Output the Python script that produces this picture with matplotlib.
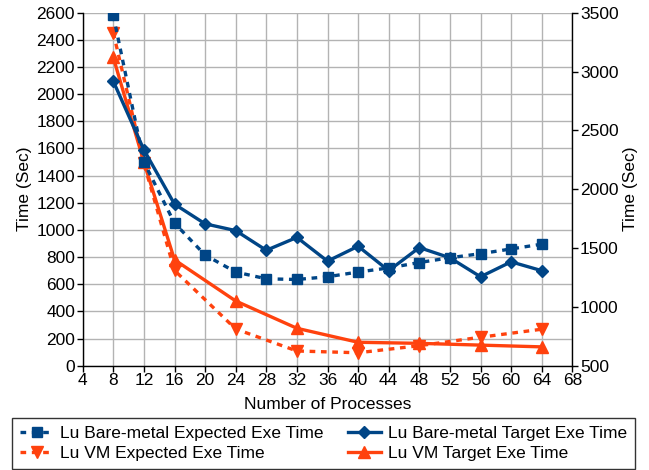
import matplotlib
matplotlib.use("Agg")
import matplotlib.pyplot as plt

plt.rcParams['font.family'] = ['Liberation Sans', 'DejaVu Sans']

# Number of processes
procs_bm = [8, 12, 16, 20, 24, 28, 32, 36, 40, 44, 48, 52, 56, 60, 64]
procs_vm = [8, 12, 16, 24, 32, 40, 48, 56, 64]

# Bare-metal run times (left axis, seconds)
bm_expected = [2580, 1500, 1050, 815, 690, 640, 635, 655, 690, 720, 760, 795, 825, 860, 895]
bm_target = [2095, 1590, 1190, 1045, 995, 850, 945, 770, 880, 700, 870, 795, 655, 765, 700]

# VM run times (right axis, seconds)
vm_expected = [3330, 2220, 1310, 812, 625, 610, 670, 742, 810]
vm_target = [3120, 2230, 1400, 1050, 818, 699, 690, 675, 660]

x_ticks = list(range(4, 69, 4))
left_ticks = list(range(0, 2601, 200))
right_ticks = list(range(500, 3501, 500))

BLUE = '#004586'
ORANGE = '#ff420e'
FS = 12.5

fig = plt.figure(figsize=(6.49, 4.70), dpi=100)
pos = [82.7 / 649, (470 - 365.7) / 470, 489.6 / 649, 353 / 470]

# background axes carrying only the grid
gax = fig.add_axes(pos)
ax = fig.add_axes(pos, sharex=gax, sharey=gax)
ax2 = ax.twinx()

gax.set_zorder(0)
ax2.set_zorder(1)
ax.set_zorder(2)
ax.patch.set_visible(False)
ax2.patch.set_visible(False)

gax.set_xlim(4, 68)
gax.set_ylim(0, 2600)
gax.set_xticks(x_ticks)
gax.set_yticks(left_ticks)
gax.grid(True, color='#b3b3b3', linewidth=1.0)
gax.tick_params(left=False, bottom=False, labelleft=False, labelbottom=False)
for s in gax.spines.values():
    s.set_visible(False)

lw = 2.4
dash = (0, (1.7, 1.7))

h1, = ax.plot(procs_bm, bm_expected, color=BLUE, lw=lw, linestyle=dash,
              marker='s', markersize=7.5, label='Lu Bare-metal Expected Exe Time')
h2, = ax.plot(procs_bm, bm_target, color=BLUE, lw=lw, linestyle='-',
              marker='D', markersize=6, label='Lu Bare-metal Target Exe Time')
h3, = ax2.plot(procs_vm, vm_expected, color=ORANGE, lw=lw, linestyle=dash,
               marker='v', markersize=8.5, label='Lu VM Expected Exe Time')
h4, = ax2.plot(procs_vm, vm_target, color=ORANGE, lw=lw, linestyle='-',
               marker='^', markersize=8.5, label='Lu VM Target Exe Time')

ax.set_xlim(4, 68)
ax.set_ylim(0, 2600)
ax.set_xticks(x_ticks)
ax.set_yticks(left_ticks)
ax2.set_ylim(500, 3500)
ax2.set_yticks(right_ticks)

for a in (ax, ax2):
    a.spines['top'].set_visible(False)
ax.spines['right'].set_visible(False)
ax2.spines['left'].set_visible(False)
ax2.spines['bottom'].set_visible(False)
for sp in (ax.spines['left'], ax.spines['bottom'], ax2.spines['right']):
    sp.set_color('black')
    sp.set_linewidth(1.0)

ax.tick_params(axis='both', direction='out', length=4, width=1, labelsize=FS,
               colors='black', pad=1.5)
ax2.tick_params(axis='y', direction='out', length=4, width=1, labelsize=FS,
                colors='black', pad=1.5)

ax.set_xlabel('Number of Processes', fontsize=FS, labelpad=6.5)
ax.set_ylabel('Time (Sec)', fontsize=FS, labelpad=3)
ax2.set_ylabel('Time (Sec)', fontsize=FS, labelpad=3)

leg = fig.legend(handles=[h1, h3, h2, h4], ncol=2, fontsize=FS,
                 loc='lower center', bbox_to_anchor=(0.4985, 0.003),
                 frameon=True, fancybox=False, borderaxespad=0,
                 handlelength=1.9, handletextpad=0.4, columnspacing=1.4,
                 labelspacing=0.25, borderpad=0.45)
leg.get_frame().set_edgecolor('black')
leg.get_frame().set_linewidth(1.0)

fig.savefig('out.png', dpi=100)
